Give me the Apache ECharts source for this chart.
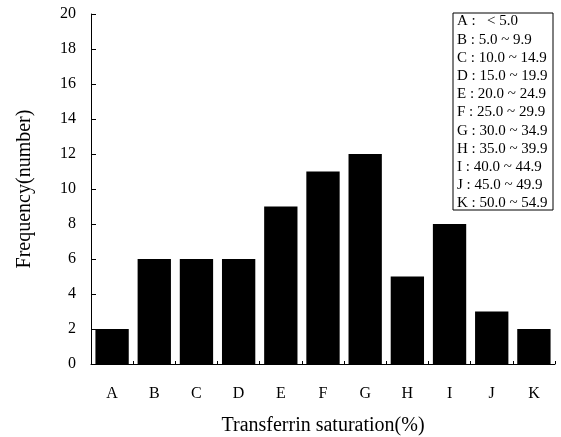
<!DOCTYPE html>
<html>
<head>
<meta charset="utf-8">
<script src="https://cdn.jsdelivr.net/npm/echarts@6/dist/echarts.min.js"></script>
<style>
  html, body { margin: 0; padding: 0; background: #fff; }
  #chart { width: 561px; height: 437px; }
</style>
</head>
<body>
<div id="chart"></div>
<script>
// Saturation groups and how many subjects fall in each
const categories = ['A', 'B', 'C', 'D', 'E', 'F', 'G', 'H', 'I', 'J', 'K'];
const frequency = [2, 6, 6, 6, 9, 11, 12, 5, 8, 3, 2];
// Range represented by each group letter
const ranges = ['  < 5.0', '5.0 ~ 9.9', '10.0 ~ 14.9', '15.0 ~ 19.9', '20.0 ~ 24.9',
  '25.0 ~ 29.9', '30.0 ~ 34.9', '35.0 ~ 39.9', '40.0 ~ 44.9', '45.0 ~ 49.9', '50.0 ~ 54.9'];

const FONT = '"Liberation Serif", "Times New Roman", serif';

const chart = echarts.init(document.getElementById('chart'), null, { renderer: 'canvas' });

// Key box listing the ranges in the top right corner
const keyRows = categories.map((c, i) => ({
  type: 'text',
  left: 457,
  top: 14 + i * 18.2,
  style: {
    text: c + ' : ' + ranges[i],
    font: '15px ' + FONT,
    fill: '#000'
  }
}));

chart.setOption({
  animation: false,
  grid: { left: 91, right: 6, top: 14, bottom: 73, outerBoundsMode: 'none' },
  xAxis: {
    type: 'category',
    data: categories,
    name: 'Transferrin saturation(%)',
    nameLocation: 'middle',
    nameGap: 52,
    nameTextStyle: { fontFamily: FONT, fontSize: 20, color: '#000' },
    axisLine: { lineStyle: { color: '#000', width: 1 } },
    axisTick: { show: true, inside: true, length: 3, lineStyle: { color: '#000' } },
    axisLabel: { fontFamily: FONT, fontSize: 16, color: '#000', margin: 22 }
  },
  yAxis: {
    type: 'value',
    min: 0,
    max: 20,
    interval: 2,
    name: 'Frequency(number)',
    nameLocation: 'middle',
    nameGap: 56,
    nameTextStyle: { fontFamily: FONT, fontSize: 20, color: '#000' },
    axisLine: { show: true, lineStyle: { color: '#000', width: 1 } },
    axisTick: { show: true, inside: true, length: 5, lineStyle: { color: '#000' } },
    axisLabel: { fontFamily: FONT, fontSize: 16, color: '#000', margin: 15 },
    splitLine: { show: false }
  },
  series: [{
    type: 'bar',
    data: frequency,
    barCategoryGap: '21%',
    itemStyle: { color: '#000' }
  }],
  graphic: [
    {
      type: 'rect',
      shape: { x: 453, y: 13, width: 100, height: 197 },
      style: { fill: '#fff', stroke: '#000', lineWidth: 1 }
    }
  ].concat(keyRows)
});
</script>
</body>
</html>
